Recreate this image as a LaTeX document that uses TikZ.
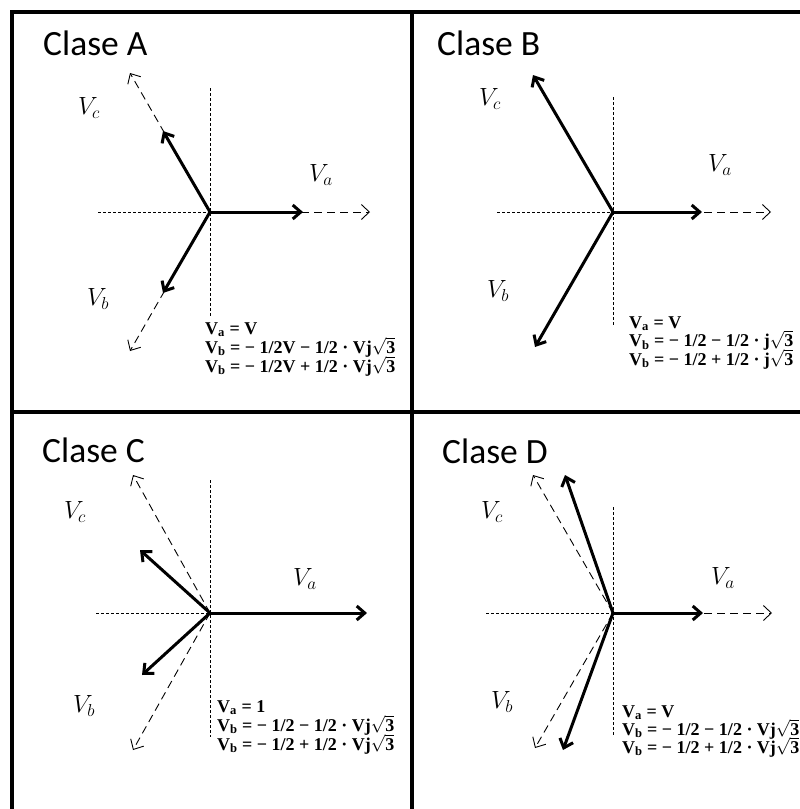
\documentclass[tikz,border=0pt]{standalone}
\usepackage{fontspec}
\usetikzlibrary{arrows.meta}
\newfontfamily\titlefont{Carlito}
\newfontfamily\eqfont{Liberation Serif}
\newcommand{\eqsqrt}[1]{\ensuremath{\boldmath\sqrt{\mbox{#1}}}}
\begin{document}
\begin{tikzpicture}[x=1pt,y=-1pt,
  frame/.style={line width=3.5pt},
  axisline/.style={dash pattern=on 3pt off 2pt, line width=1pt},
  ghost/.style={dash pattern=on 8pt off 5pt, line width=0.9pt, -{Straight Barb[length=8pt,width=15pt]}},
  phasor/.style={line width=3pt, -{Straight Barb[length=8pt,width=14pt]}},
  titletext/.style={font=\titlefont\fontsize{35.5}{40}\selectfont, anchor=base west, inner sep=0pt},
  lab/.style={font=\fontsize{27}{30}\selectfont, inner sep=0pt},
  eqline/.style={font=\eqfont\bfseries\fontsize{18}{21}\selectfont, anchor=base west, inner sep=0pt}]
\useasboundingbox (0,0) rectangle (800,809);

% frame
\draw[frame] (12,809) -- (12,12) -- (800,12);
\draw[frame] (412,12) -- (412,809);
\draw[frame] (12,412) -- (800,412);

% ---------------- Clase A ----------------
\node[titletext] (tA) at (43,55) {Clase A};
\coordinate (Ao) at (210,212);
\coordinate (Ah) at (98,212);
\coordinate (Avt) at (210,88);
\coordinate (Avb) at (210,317);
\draw[axisline] (Ah) -- (Ao);
\draw[axisline] (Avt) -- (Avb);
\coordinate (AdA) at (370,212);
\coordinate (AdC) at (130,73);
\coordinate (AdB) at (130,351);
\coordinate (AsA) at (303,212);
\coordinate (AsC) at (163,131);
\coordinate (AsB) at (163,293);
\draw[ghost] (Ao) -- (AdA);
\draw[ghost] (Ao) -- (AdC);
\draw[ghost] (Ao) -- (AdB);
\draw[phasor] (Ao) -- (AsA);
\draw[phasor] (Ao) -- (AsC);
\draw[phasor] (Ao) -- (AsB);
\node[lab] (AlC) at (89,108) {$V_c$};
\node[lab] (AlA) at (321,175) {$V_a$};
\node[lab] (AlB) at (98,299) {$V_b$};
\node[eqline] (Ae1) at (205,334) {V\textsubscript{a} = V};
\node[eqline] (Ae2) at (205,353) {V\textsubscript{b} = − 1/2V − 1/2 · Vj\eqsqrt{3}};
\node[eqline] (Ae3) at (205,372) {V\textsubscript{b} = − 1/2V + 1/2 · Vj\eqsqrt{3}};

% ---------------- Clase B ----------------
\node[titletext] (tB) at (437,55) {Clase B};
\coordinate (Bo) at (613,212);
\coordinate (Bh) at (497,212);
\coordinate (Bvt) at (613,97);
\coordinate (Bvb) at (613,325);
\draw[axisline] (Bh) -- (Bo);
\draw[axisline] (Bvt) -- (Bvb);
\coordinate (BdA) at (771,212);
\coordinate (BsA) at (702,212);
\coordinate (BsC) at (533,75);
\coordinate (BsB) at (535,347);
\draw[ghost] (Bo) -- (BdA);
\draw[phasor] (Bo) -- (BsA);
\draw[phasor] (Bo) -- (BsC);
\draw[phasor] (Bo) -- (BsB);
\node[lab] (BlC) at (490,99) {$V_c$};
\node[lab] (BlA) at (720,165) {$V_a$};
\node[lab] (BlB) at (498,291) {$V_b$};
\node[eqline] (Be1) at (629,328) {V\textsubscript{a} = V};
\node[eqline] (Be2) at (629,346.5) {V\textsubscript{b} = − 1/2 − 1/2 · j\eqsqrt{3}};
\node[eqline] (Be3) at (629,365) {V\textsubscript{b} = − 1/2 + 1/2 · j\eqsqrt{3}};

% ---------------- Clase C ----------------
\node[titletext] (tC) at (42,462) {Clase C};
\coordinate (Co) at (210,613);
\coordinate (Ch) at (96,613);
\coordinate (Cvt) at (210,480);
\coordinate (Cvb) at (210,737);
\draw[axisline] (Ch) -- (Co);
\draw[axisline] (Cvt) -- (Cvb);
\coordinate (CdC) at (133,475);
\coordinate (CdB) at (133,750);
\coordinate (CsA) at (367,613);
\coordinate (CsC) at (140,550);
\coordinate (CsB) at (142,675);
\draw[ghost] (Co) -- (CdC);
\draw[ghost] (Co) -- (CdB);
\draw[phasor] (Co) -- (CsA);
\draw[phasor] (Co) -- (CsC);
\draw[phasor] (Co) -- (CsB);
\node[lab] (ClC) at (75,512) {$V_c$};
\node[lab] (ClA) at (305,579) {$V_a$};
\node[lab] (ClB) at (84,706) {$V_b$};
\node[eqline] (Ce1) at (217,712) {V\textsubscript{a} = 1};
\node[eqline] (Ce2) at (217,731) {V\textsubscript{b} = − 1/2 − 1/2 · Vj\eqsqrt{3}};
\node[eqline] (Ce3) at (217,750) {V\textsubscript{b} = − 1/2 + 1/2 · Vj\eqsqrt{3}};

% ---------------- Clase D ----------------
\node[titletext] (tD) at (442,463) {Clase D};
\coordinate (Do) at (613,613);
\coordinate (Dh) at (486,613);
\coordinate (Dvt) at (613,507);
\coordinate (Dvb) at (613,735);
\draw[axisline] (Dh) -- (Do);
\draw[axisline] (Dvt) -- (Dvb);
\coordinate (DdA) at (772,613);
\coordinate (DdC) at (533,475);
\coordinate (DdB) at (535,748);
\coordinate (DsA) at (703,613);
\coordinate (DsC) at (565,475);
\coordinate (DsB) at (563,750);
\draw[ghost] (Do) -- (DdA);
\draw[ghost] (Do) -- (DdC);
\draw[ghost] (Do) -- (DdB);
\draw[phasor] (Do) -- (DsA);
\draw[phasor] (Do) -- (DsC);
\draw[phasor] (Do) -- (DsB);
\node[lab] (DlC) at (492,512) {$V_c$};
\node[lab] (DlA) at (723,578) {$V_a$};
\node[lab] (DlB) at (502,702) {$V_b$};
\node[eqline] (De1) at (622,717) {V\textsubscript{a} = V};
\node[eqline] (De2) at (622,735) {V\textsubscript{b} = − 1/2 − 1/2 · Vj\eqsqrt{3}};
\node[eqline] (De3) at (622,753) {V\textsubscript{b} = − 1/2 + 1/2 · Vj\eqsqrt{3}};
\end{tikzpicture}
\end{document}
